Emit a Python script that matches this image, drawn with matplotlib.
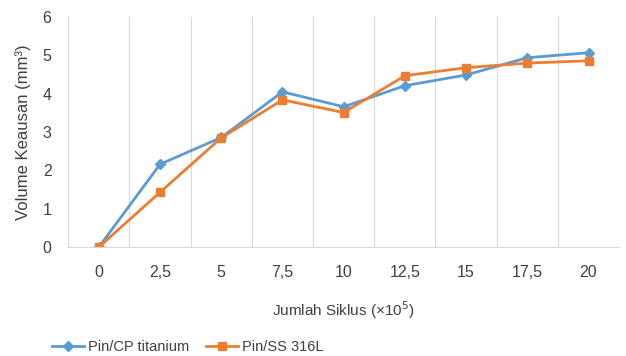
import matplotlib.pyplot as plt
import numpy as np

plt.rcParams['font.family'] = ['Liberation Sans', 'DejaVu Sans']

siklus = ['0', '2,5', '5', '7,5', '10', '12,5', '15', '17,5', '20']
cp_titanium = [0.0, 2.16, 2.86, 4.05, 3.66, 4.21, 4.49, 4.94, 5.07]
ss_316l = [0.0, 1.43, 2.85, 3.84, 3.51, 4.47, 4.68, 4.80, 4.86]

fig = plt.figure(figsize=(6.26, 3.56), dpi=100)
ax = fig.add_axes([0.109, 0.306, 0.88, 0.646])

x = np.arange(len(siklus))
ax.plot(x, cp_titanium, color='#5B9BD5', lw=2, marker='D', ms=5,
        label='Pin/CP titanium')
ax.plot(x, ss_316l, color='#ED7D31', lw=2, marker='s', ms=6,
        label='Pin/SS 316L')

ax.set_xlim(-0.5, len(siklus) - 0.5)
ax.set_ylim(0, 6)
ax.set_xticks(x)
ax.set_xticklabels(siklus)
ax.set_yticks(range(7))
ax.set_xticks(np.arange(-0.5, len(siklus), 1), minor=True)
ax.grid(True, which='minor', axis='x', color='#D9D9D9', lw=0.8)
ax.tick_params(which='both', length=0, labelsize=11.5, colors='#404040')
ax.tick_params(axis='x', pad=13)
ax.tick_params(axis='y', pad=12)

for s in ['top', 'right', 'left']:
    ax.spines[s].set_visible(False)
ax.spines['bottom'].set_color('#D9D9D9')

ax.set_ylabel('Volume Keausan (mm³)', fontsize=12, color='#404040', labelpad=8)
ax.set_xlabel('Jumlah Siklus (×10$^5$)', fontsize=11, color='#404040', labelpad=14)

ax.legend(loc='upper left', bbox_to_anchor=(-0.04, -0.38), ncol=2, frameon=False,
          fontsize=10.5, handlelength=2.2, columnspacing=1.1, handletextpad=0.3,
          borderaxespad=0, labelcolor='#404040')

fig.savefig('out.png', dpi=100)
